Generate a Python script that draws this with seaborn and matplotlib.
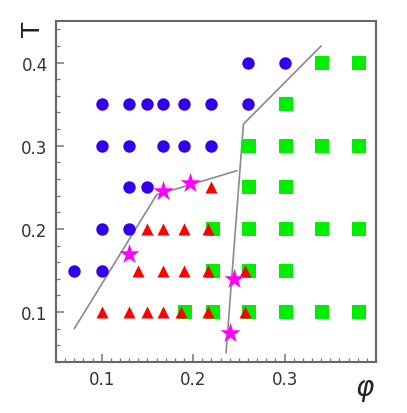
#!/usr/bin/python3

import matplotlib
matplotlib.use("Agg")
import matplotlib.pyplot as plt
import matplotlib.transforms as mtransforms
from matplotlib.ticker import MultipleLocator, FixedLocator
import seaborn as sns

# blue circles
circle_x = [0.26, 0.30,
            0.10, 0.13, 0.15, 0.167, 0.19, 0.22, 0.26,
            0.10, 0.13, 0.167, 0.19, 0.22,
            0.13, 0.15,
            0.10, 0.13,
            0.07, 0.10]
circle_y = [0.40, 0.40,
            0.35, 0.35, 0.35, 0.35, 0.35, 0.35, 0.35,
            0.30, 0.30, 0.30, 0.30, 0.30,
            0.25, 0.25,
            0.20, 0.20,
            0.15, 0.15]

# green squares
square_x = [0.34, 0.38,
            0.30,
            0.26, 0.30, 0.34, 0.38,
            0.26, 0.30,
            0.22, 0.26, 0.30, 0.34, 0.38,
            0.22, 0.26, 0.30,
            0.19, 0.22, 0.26, 0.30, 0.34, 0.38]
square_y = [0.40, 0.40,
            0.35,
            0.30, 0.30, 0.30, 0.30,
            0.25, 0.25,
            0.20, 0.20, 0.20, 0.20, 0.20,
            0.15, 0.15, 0.15,
            0.10, 0.10, 0.10, 0.10, 0.10, 0.10]

# red triangles
tri_x = [0.22,
         0.15, 0.167, 0.19, 0.22,
         0.14, 0.167, 0.19, 0.22, 0.26,
         0.10, 0.13, 0.15, 0.167, 0.19, 0.22, 0.26]
tri_y = [0.25,
         0.20, 0.20, 0.20, 0.20,
         0.15, 0.15, 0.15, 0.15, 0.15,
         0.10, 0.10, 0.10, 0.10, 0.10, 0.10, 0.10]

# magenta stars
star_x = [0.13, 0.167, 0.197, 0.245, 0.24]
star_y = [0.17, 0.245, 0.255, 0.14, 0.075]

# boundary lines
line1_x = [0.07, 0.16, 0.248]
line1_y = [0.08, 0.241, 0.27]
line2_x = [0.236, 0.255, 0.34]
line2_y = [0.051, 0.326, 0.42]


def main():
    sns.set_style("white")
    plt.rcParams['font.family'] = ['DejaVu Sans']
    plt.rcParams['mathtext.fontset'] = 'dejavusans'

    fig = plt.figure(figsize=(4.07, 4.14), dpi=100)
    ax = fig.add_axes([0.1376, 0.1232, 0.7862, 0.8237])

    ax.plot(line1_x, line1_y, color="#8a8a8a", lw=1.2, zorder=1)
    ax.plot(line2_x, line2_y, color="#8a8a8a", lw=1.2, zorder=1)

    sns.scatterplot(x=circle_x, y=circle_y, marker='o', color="#3300ee",
                    s=80, linewidth=0, ax=ax, zorder=2)

    sq_shift = mtransforms.offset_copy(ax.transData, fig, x=0.8, units='points')
    sns.scatterplot(x=square_x, y=square_y, marker='s', color="#00ee00",
                    s=90, linewidth=0, ax=ax, zorder=2, transform=sq_shift)

    pairs = set(zip(square_x, square_y))
    both = [(a, b) for a, b in zip(tri_x, tri_y) if (a, b) in pairs]
    alone = [(a, b) for a, b in zip(tri_x, tri_y) if (a, b) not in pairs]
    tri_shift = mtransforms.offset_copy(ax.transData, fig, x=-2.2, units='points')
    sns.scatterplot(x=[p[0] for p in alone], y=[p[1] for p in alone],
                    marker='^', color="#ff0000", s=75, linewidth=0, ax=ax, zorder=3)
    sns.scatterplot(x=[p[0] for p in both], y=[p[1] for p in both],
                    marker='^', color="#ff0000", s=75, linewidth=0, ax=ax, zorder=3,
                    transform=tri_shift)

    sns.scatterplot(x=star_x, y=star_y, marker='*', color="#ff00ff",
                    s=230, linewidth=0, ax=ax, zorder=4)

    ax.set_xlim(0.05, 0.4)
    ax.set_ylim(0.04, 0.45)
    ax.xaxis.set_major_locator(FixedLocator([0.1, 0.2, 0.3]))
    ax.xaxis.set_minor_locator(MultipleLocator(0.01))
    ax.yaxis.set_major_locator(FixedLocator([0.1, 0.2, 0.3, 0.4]))
    ax.yaxis.set_minor_locator(MultipleLocator(0.02))
    ax.set_xticklabels(['0.1', '0.2', '0.3'])
    ax.set_yticklabels(['0.1', '0.2', '0.3', '0.4'])

    ax.tick_params(which='both', direction='in', color='#777777',
                   bottom=True, left=True, top=False, right=False)
    ax.tick_params(which='major', length=6, width=1.1, labelsize=12,
                   labelcolor='#333333', pad=6)
    ax.tick_params(which='minor', length=3, width=0.9)

    for sp in ax.spines.values():
        sp.set_color('#666666')
        sp.set_linewidth(1.5)

    # axis titles sit in the figure corners
    fig.text(365 / 407, 1 - 390 / 414, r'$\varphi$', fontsize=20,
             ha='center', va='center', color='#222222')
    fig.text(33 / 407, 1 - 29 / 414, 'T', fontsize=18, rotation=90,
             ha='center', va='center', color='#222222')

    fig.savefig('out.png', dpi=100)


if __name__ == '__main__':
    main()
